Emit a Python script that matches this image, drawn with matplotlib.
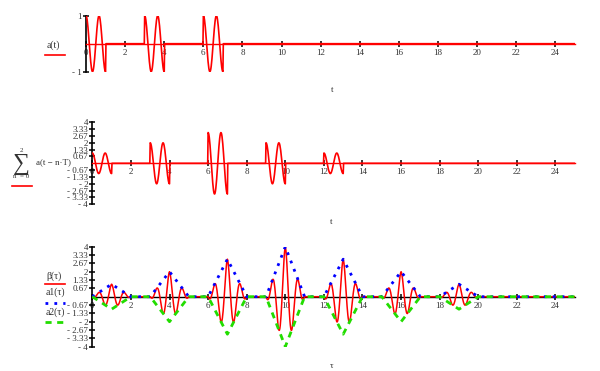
import numpy as np
import matplotlib
matplotlib.use("Agg")
import matplotlib.pyplot as plt
from matplotlib.lines import Line2D

# ---- values ----
# a(t): cosine bursts cos(3*pi*(t - start)) of length 1
a_burst_starts = [0, 3, 6]
burst_len = 1.0
burst_freq = 1.5          # cycles per unit (cos(3*pi*t))
# sum_{n=0}^{2} a(t - n*T), T = 3
sum_burst_starts = [0, 3, 6, 9, 12]
sum_burst_amps = [1, 2, 3, 2, 1]
# beta(tau): triangular-enveloped oscillation, a1 = envelope, a2 = -envelope
beta_centers = [1, 4, 7, 10, 13, 16, 19]
beta_peaks = [1, 2, 3, 4, 3, 2, 1]
beta_halfwidth = 1.0

x_ticks = list(range(0, 25, 2))
top_yticks = [1, -1]
top_ylabels = ["1", "- 1"]
mid_yticks = [4, 3.33, 2.67, 2, 1.33, 0.67, -0.67, -1.33, -2, -2.67, -3.33, -4]
mid_ylabels = ["4", "3.33", "2.67", "2", "1.33", "0.67", "- 0.67", "- 1.33", "- 2", "- 2.67", "- 3.33", "- 4"]

t = np.round(np.arange(0, 25.0001, 0.02), 4)

def burst_signal(tt, starts, amps):
    y = np.zeros_like(tt)
    for s, A in zip(starts, amps):
        m = (tt >= s) & (tt <= s + burst_len)
        y[m] += A * np.cos(2 * np.pi * burst_freq * (tt[m] - s))
    return y

a_t = burst_signal(t, a_burst_starts, [1] * len(a_burst_starts))
s_t = burst_signal(t, sum_burst_starts, sum_burst_amps)
env = np.zeros_like(t)
beta = np.zeros_like(t)
for c, p in zip(beta_centers, beta_peaks):
    m = np.abs(t - c) <= beta_halfwidth
    e = p * (1 - np.abs(t[m] - c) / beta_halfwidth)
    env[m] += e
    beta[m] += e * np.cos(2 * np.pi * burst_freq * (t[m] - c))

W, H = 600, 371
fig = plt.figure(figsize=(6, 3.71), dpi=100)
SERIF = ["Liberation Serif", "DejaVu Serif"]
TICKFS = 6.5
TXTCOL = "#333333"

def ax_at(l, r, top, bot):
    return fig.add_axes([l / W, 1 - bot / H, (r - l) / W, (bot - top) / H])

def style(ax, ylim, yt, yl, xcol="black"):
    ax.set_xlim(0, 25)
    ax.set_ylim(*ylim)
    for s in ["top", "right"]:
        ax.spines[s].set_visible(False)
    ax.spines["bottom"].set_position(("data", 0))
    ax.spines["left"].set_position(("data", 0))
    ax.spines["bottom"].set_linewidth(1.0)
    ax.spines["bottom"].set_color(xcol)
    ax.spines["left"].set_linewidth(1.2)
    ax.set_xticks(x_ticks)
    ax.set_xticklabels([str(v) for v in x_ticks], fontfamily=SERIF, fontsize=TICKFS, color=TXTCOL)
    ax.set_yticks(yt)
    ax.set_yticklabels(yl, fontfamily=SERIF, fontsize=TICKFS, color=TXTCOL)
    ax.tick_params(axis="x", direction="inout", length=5, width=1.1, pad=1, color="black")
    ax.tick_params(axis="y", direction="inout", length=4, width=1.1, pad=1)
    ax.patch.set_alpha(0)

def px(x, y):
    return x / W, 1 - y / H

# top panel
ax1 = ax_at(86, 575, 15.7, 71.7)
ax1.plot(t, a_t, color="red", lw=1.2, zorder=3)
style(ax1, (-1, 1), top_yticks, top_ylabels, xcol="red")

# middle panel
ax2 = ax_at(92.3, 574.8, 122.3, 204.3)
ax2.plot(t, s_t, color="red", lw=1.2, zorder=3)
style(ax2, (-4, 4), mid_yticks, mid_ylabels, xcol="red")

# bottom panel
ax3 = ax_at(92.3, 574.8, 246.7, 346.7)
ax3.plot(t, beta, color="red", lw=1.1, zorder=3)
ax3.plot(t, env, color="blue", lw=2.0, linestyle=(0, (1, 2.2)), zorder=4)
ax3.plot(t, -env, color="#22dd00", lw=2.0, linestyle=(0, (2.2, 2.0)), zorder=5)
style(ax3, (-4, 4), mid_yticks, mid_ylabels)

# axis labels
fig.text(*px(332, 90), "t", fontfamily=SERIF, fontsize=6.5, ha="center", va="center", color=TXTCOL)
fig.text(*px(331, 222), "t", fontfamily=SERIF, fontsize=6.5, ha="center", va="center", color=TXTCOL)
fig.text(*px(332, 366), "τ", fontfamily=SERIF, fontsize=6.5, ha="center", va="center", color=TXTCOL)

# left legend-style labels
fig.text(*px(47, 45), "a(t)", fontfamily=SERIF, fontsize=7, ha="left", va="center", color=TXTCOL)
fig.add_artist(Line2D([45 / W, 65 / W], [1 - 55 / H, 1 - 55 / H], color="red", lw=1.2))

fig.text(*px(21, 151), "2", fontfamily=SERIF, fontsize=5, ha="center", va="center", color=TXTCOL)
fig.text(*px(21, 164), "∑", fontfamily=SERIF, fontsize=17, ha="center", va="center", color=TXTCOL)
fig.text(*px(21, 177), "n  = 0", fontfamily=SERIF, fontsize=5, ha="center", va="center", color=TXTCOL)
fig.text(*px(36, 162), "a(t − n·T)", fontfamily=SERIF, fontsize=6.5, ha="left", va="center", color=TXTCOL)
fig.add_artist(Line2D([12 / W, 32 / W], [1 - 186 / H, 1 - 186 / H], color="red", lw=1.2))

fig.text(*px(46, 276), "β(τ)", fontfamily=SERIF, fontsize=7, ha="left", va="center", color=TXTCOL)
fig.add_artist(Line2D([45 / W, 65 / W], [1 - 284 / H, 1 - 284 / H], color="red", lw=1.2))
fig.text(*px(46, 292), "a1(τ)", fontfamily=SERIF, fontsize=7, ha="left", va="center", color=TXTCOL)
fig.add_artist(Line2D([45 / W, 65 / W], [1 - 302.5 / H, 1 - 302.5 / H], color="blue", lw=2.0, linestyle=(0, (1, 2.2))))
fig.text(*px(46, 312), "a2(τ)", fontfamily=SERIF, fontsize=7, ha="left", va="center", color=TXTCOL)
fig.add_artist(Line2D([45 / W, 65 / W], [1 - 322 / H, 1 - 322 / H], color="#22dd00", lw=2.0, linestyle=(0, (2.2, 2.0))))

fig.savefig("out.png", dpi=100)
